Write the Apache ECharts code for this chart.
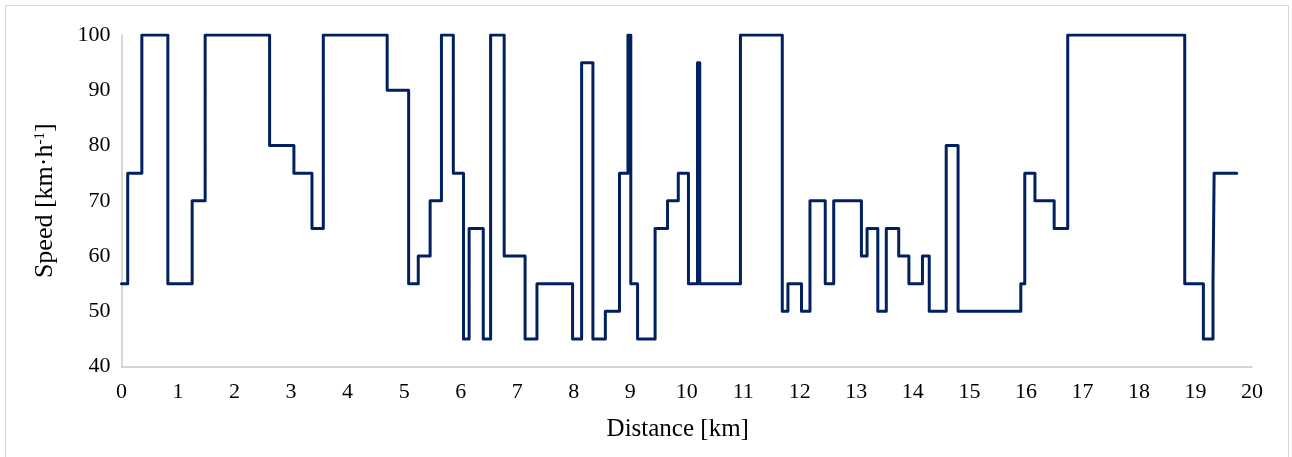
<!DOCTYPE html>
<html>
<head>
<meta charset="utf-8">
<script src="https://cdn.jsdelivr.net/npm/echarts@6/dist/echarts.min.js"></script>
<style>
html,body{margin:0;padding:0;background:#fff;}
#chart{width:1292px;height:457px;}
</style>
</head>
<body>
<div id="chart"></div>
<script>
// Step profile: speed value holds from each distance until the next one
const distanceKm = [0, 0.11, 0.36, 0.82, 1.25, 1.48, 2.62, 3.05, 3.37, 3.57,
  4.70, 5.08, 5.25, 5.46, 5.66, 5.87, 6.05, 6.15, 6.40, 6.53,
  6.77, 7.14, 7.35, 7.98, 8.14, 8.34, 8.56, 8.81, 8.96, 9.01,
  9.13, 9.44, 9.66, 9.85, 10.03, 10.19, 10.23, 10.95, 11.69, 11.79,
  12.03, 12.18, 12.45, 12.60, 13.09, 13.19, 13.38, 13.53, 13.75, 13.93,
  14.17, 14.29, 14.59, 14.80, 15.91, 15.98, 16.16, 16.50, 16.74, 18.81,
  19.14, 19.31, 19.33, 19.73];
const speedKmh = [55, 75, 100, 55, 70, 100, 80, 75, 65, 100,
  90, 55, 60, 70, 100, 75, 45, 65, 45, 100,
  60, 45, 55, 45, 95, 45, 50, 75, 100, 55,
  45, 65, 70, 75, 55, 95, 55, 100, 50, 55,
  50, 70, 55, 70, 60, 65, 50, 65, 60, 55,
  60, 50, 80, 50, 55, 75, 70, 65, 100, 55,
  45, 55, 75, 75];
const xTicks = {min: 0, max: 20, interval: 1};
const yTicks = {min: 40, max: 100, interval: 10};
const xTitle = 'Distance [km]';
const yTitleRich = '{a|Speed [km·h}{s|-1}{a|]}';

const seriesData = distanceKm.map((d, i) => [d, speedKmh[i]]);
const serif = "'Liberation Serif', 'Times New Roman', serif";

const chart = echarts.init(document.getElementById('chart'), null, {renderer: 'canvas'});
chart.setOption({
  animation: false,
  backgroundColor: '#ffffff',
  graphic: [{
    type: 'rect',
    shape: {x: 5.5, y: 5.5, width: 1283, height: 470},
    style: {fill: 'none', stroke: '#d9d9d9', lineWidth: 1},
    silent: true
  }],
  grid: {left: 121.5, right: 40, top: 35, bottom: 90.5, containLabel: false},
  xAxis: {
    type: 'value',
    min: xTicks.min, max: xTicks.max, interval: xTicks.interval,
    name: xTitle,
    nameLocation: 'middle',
    nameGap: 50,
    nameTextStyle: {fontFamily: serif, fontSize: 25, color: '#000', padding: [0, 18, 0, 0]},
    axisLine: {show: true, onZero: false, lineStyle: {color: '#c8c8c8', width: 1.5}},
    axisTick: {show: false},
    splitLine: {show: false},
    axisLabel: {fontFamily: serif, fontSize: 22, color: '#000', margin: 15}
  },
  yAxis: {
    type: 'value',
    min: yTicks.min, max: yTicks.max, interval: yTicks.interval,
    name: yTitleRich,
    nameLocation: 'middle',
    nameGap: 63,
    nameTextStyle: {
      fontFamily: serif, fontSize: 26, color: '#000',
      rich: {
        a: {fontFamily: serif, fontSize: 26, color: '#000'},
        s: {fontFamily: serif, fontSize: 15, color: '#000', verticalAlign: 'top', padding: [0, 0, 10, 0]}
      }
    },
    axisLine: {show: true, lineStyle: {color: '#c8c8c8', width: 1.5}},
    axisTick: {show: false},
    splitLine: {show: false},
    axisLabel: {fontFamily: serif, fontSize: 22, color: '#000', margin: 11}
  },
  series: [{
    type: 'line',
    step: 'end',
    data: seriesData,
    showSymbol: false,
    symbol: 'none',
    lineStyle: {color: '#002060', width: 3, join: 'round', cap: 'round'}
  }]
});
</script>
</body>
</html>
